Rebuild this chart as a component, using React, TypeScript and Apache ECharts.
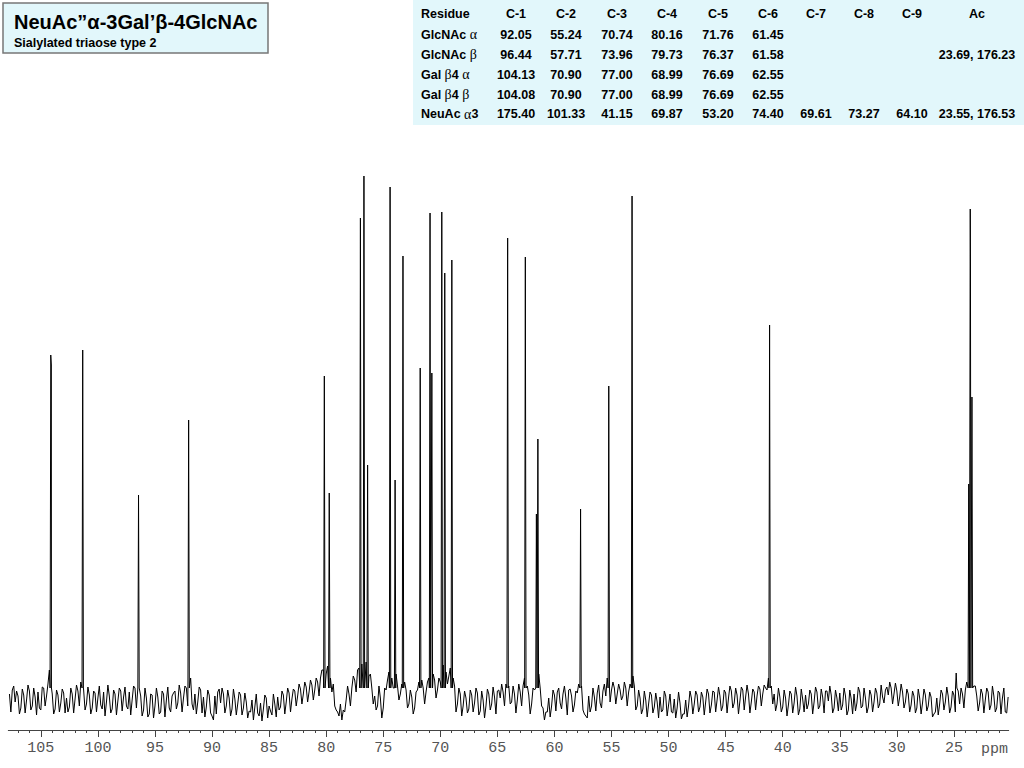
import React, { useEffect, useRef } from "react";
import * as echarts from "echarts";

// ---------- DATA ----------
// Baseline noise.
// baselineNoise: one value every 0.25 ppm from 107.75 ppm down to 20.25 ppm
// baselineNoiseMid: the values half-way between them, from 107.625 ppm down to 20.375 ppm
const NOISE_START_PPM = 107.75;
const NOISE_STEP_PPM = 0.25;
const baselineNoise = [
  // 107.75 .. 103.00
  6, 10, -2, 4, -8, 5, 0, 9, -6, 3, 8, -10, 12, 4, 30, 6, -9, 5, -3, 7,
  // 102.75 .. 98.00
  2, -7, 6, 1, 9, 18, 10, -4, 5, -8, 7, 2, -5, 8, -2, 4, -9, 6, -1, 9,
  // 97.75 .. 93.00
  3, -6, 8, 0, 12, 14, 4, -10, 2, -14, 5, -6, 3, -12, 6, 0, -8, 4, 9, -3,
  // 92.75 .. 88.00
  7, 2, 12, 8, -4, 6, -2, 10, 3, -7, 5, -16, 4, 8, -3, 6, -6, 2, -9, 1,
  // 87.75 .. 83.00
  -4, 5, -8, -2, -11, 0, -7, -13, -3, -9, 2, -6, -15, -4, 3, -7, 5, -2, 7, 1,
  // 82.75 .. 78.00
  9, 4, 11, 6, 13, 8, 15, 10, 18, 22, 30, 26, 28, 8, -6, -12, -4, -10, 0, 6,
  // 77.75 .. 73.00
  12, 20, 30, 40, 50, 38, 24, 12, 4, -6, 2, -8, 10, 28, 22, 30, 14, 6, 25, 10,
  // 72.75 .. 68.00
  -4, 3, -8, 10, 25, 12, 8, 22, 40, 20, 10, 18, 35, 28, 24, 35, 14, -4, 6, -6,
  // 67.75 .. 63.00
  2, -9, 5, -3, 7, -11, 0, -6, 6, -4, 3, 9, 2, 8, 16, 14, -2, 6, 0, 8,
  // 62.75 .. 58.00
  14, 20, 5, -4, 10, 30, 12, -8, -12, 2, -6, 5, 8, -3, 6, 2, 10, 4, -5, 7,
  // 57.75 .. 53.00
  12, -10, -16, 4, -6, 3, 7, -3, 9, 4, 14, 10, 12, 6, 10, 4, 12, 8, 20, 14,
  // 52.75 .. 48.00
  -6, 2, -9, 0, -4, 5, -7, -2, 3, -10, 4, -5, -12, 1, -8, -3, -14, 0, -6, 2,
  // 47.75 .. 43.00
  -4, 5, -7, 3, -2, 6, -5, 8, 0, 4, -6, 7, 2, 9, -3, 5, -1, 10, 3, 6,
  // 42.75 .. 38.00
  -2, 8, 4, 11, 6, 12, 22, 14, 6, -4, 3, -7, 2, -5, 6, -3, 4, -9, 1, 5,
  // 37.75 .. 33.00
  -4, 6, -2, 8, -6, 3, 9, -1, 5, -8, 2, 7, -5, 4, -10, 1, 6, -3, 8, -6,
  // 32.75 .. 28.00
  2, -7, 5, -2, 7, -4, 3, 10, 5, 12, 6, 9, 3, 8, -2, 6, -5, 4, -8, 2,
  // 27.75 .. 23.00
  -3, 5, -6, 3, -14, 2, -4, 6, -2, 4, -7, 5, 8, -4, 6, 10, 22, 30, 14, 4,
  // 22.75 .. 20.25
  -3, 6, 0, 8, -5, 4, -8, 7, 2, -12, 3,
];
const baselineNoiseMid = [
  // 107.625 .. 102.875
  -12, 14, 9, -14, 11, -13, 15, -10, 12, -15, -8, 13, -6, 16, 24, -14, 10, -12, 11, -13,
  // 102.625 .. 97.875
  -12, 12, -13, 15, -6, 26, -10, 13, -14, 9, -12, 14, -9, -16, 15, -13, 10, -15, 12, -11,
  // 97.625 .. 92.875
  13, -9, -15, 14, -8, 20, -16, 12, -17, 6, -18, 12, -14, 9, -17, 13, -12, 7, -9, 15,
  // 92.625 .. 87.875
  -12, 14, -6, 22, -10, -14, 13, -13, -17, 10, -13, -20, -14, 11, 12, -13, 10, -16, 11, -15,
  // 87.625 .. 82.875
  8, -15, 7, -18, -12, -20, 6, -16, -21, 5, -18, -11, 6, -17, -10, 9, -14, 12, -12, 11,
  // 82.625 .. 77.875
  -6, 16, -4, 18, -2, 20, 0, 22, 4, 30, 24, 34, 22, 16, -10, -16, -20, -12, 14, -6,
  // 77.625 .. 72.875
  24, 8, 32, 36, 46, 30, 26, -4, -10, 14, -18, 12, 20, 34, 12, 26, 0, 16, 18, -8,
  // 72.625 .. 67.875
  10, -14, 8, 18, 20, -4, 18, 30, 26, 2, 22, 28, 32, 16, 32, 22, -12, 12, -16, 9,
  // 67.625 .. 62.875
  -13, 10, -12, 12, -15, 9, -18, 11, -10, 13, -14, 10, 16, -6, 20, -4, 14, -13, 16, -6,
  // 62.625 .. 57.875
  22, 14, -14, 12, 18, 26, -6, -20, -12, -17, 10, -11, 12, -9, 14, -15, 11, -12, 9, 16,
  // 57.625 .. 52.875
  14, -14, -18, -12, 12, -11, 15, -8, 16, 22, -2, 18, -4, 16, 0, 18, -6, 16, 24, -10,
  // 52.625 .. 47.875
  10, -14, 9, -17, 8, -13, 7, -18, -12, 9, -16, 6, -13, -18, 8, -19, -14, -17, 9, -14,
  // 47.625 .. 42.875
  9, -12, 8, -15, 11, -13, 9, -12, 13, -11, 10, -13, 14, -8, 12, -14, 13, -10, 15, -13,
  // 42.625 .. 37.875
  11, -10, 14, -6, 15, 10, 24, -4, -11, 12, -12, 10, -16, 9, -13, 13, -15, 11, -12, -9,
  // 37.625 .. 32.875
  10, -14, 13, -9, 11, -13, 9, 14, -13, 10, -11, -10, 12, -15, 10, -14, -11, 13, -8, 12,
  // 32.625 .. 27.875
  -13, 10, -12, 12, -8, 15, -3, 13, 18, -4, 17, -6, 16, -8, 11, -12, 9, -13, 11, -14,
  // 27.625 .. 22.875
  11, -11, 8, -17, -12, -15, 10, -10, 13, -13, 9, -12, 9, 12, -8, 18, 28, 32, 14, -11,
  // 22.625 .. 20.375
  11, -13, 12, -10, 14, -12, 9, -14, 12, -13,
];

// Resonances (ppm) and their drawn heights
const peakPpm = [
  104.13, 104.08, 101.33, 96.44, 92.05, 80.16, 79.73, 77.0, 76.69, 76.37,
  74.4, 73.96, 73.27, 71.76, 70.9, 70.74, 69.87, 69.61, 68.99, 64.1,
  62.55, 61.58, 61.45, 57.71, 55.24, 53.2, 41.15, 24.8, 23.7, 23.57,
  23.55, 23.42,
];
const peakHeight = [
  345, 335, 350, 205, 280, 324, 207, 482, 524, 235,
  513, 220, 444, 332, 487, 327, 488, 427, 440, 462,
  443, 186, 261, 191, 314, 504, 375, 27, 216, 491,
  436, 303,
];

const majorTicks = [105, 100, 95, 90, 85, 80, 75, 70, 65, 60, 55, 50, 45, 40, 35, 30, 25];
const minorTicks = [
  107, 106, 105, 104, 103, 102, 101, 100, 99, 98, 97, 96, 95, 94, 93, 92, 91, 90, 89, 88,
  87, 86, 85, 84, 83, 82, 81, 80, 79, 78, 77, 76, 75, 74, 73, 72, 71, 70, 69, 68,
  67, 66, 65, 64, 63, 62, 61, 60, 59, 58, 57, 56, 55, 54, 53, 52, 51, 50, 49, 48,
  47, 46, 45, 44, 43, 42, 41, 40, 39, 38, 37, 36, 35, 34, 33, 32, 31, 30, 29, 28,
  27, 26, 25, 24, 23, 22, 21,
];

const titleText = "NeuAc\u201D\u03B1-3Gal\u2019\u03B2-4GlcNAc";
const subtitleText = "Sialylated triaose type 2";

const tableHeader = ["C-1", "C-2", "C-3", "C-4", "C-5", "C-6", "C-7", "C-8", "C-9", "Ac"];
const residueLabels = [
  "{b|GlcNAc }{g|\u03B1}",
  "{b|GlcNAc }{g|\u03B2}",
  "{b|Gal }{g|\u03B2}{b|4 }{g|\u03B1}",
  "{b|Gal }{g|\u03B2}{b|4 }{g|\u03B2}",
  "{b|NeuAc }{g|\u03B1}{b|3}",
];
const rowGlcNAcAlpha = ["92.05", "55.24", "70.74", "80.16", "71.76", "61.45", "", "", "", ""];
const rowGlcNAcBeta = ["96.44", "57.71", "73.96", "79.73", "76.37", "61.58", "", "", "", "23.69, 176.23"];
const rowGalAlpha = ["104.13", "70.90", "77.00", "68.99", "76.69", "62.55", "", "", "", ""];
const rowGalBeta = ["104.08", "70.90", "77.00", "68.99", "76.69", "62.55", "", "", "", ""];
const rowNeuAc = ["175.40", "101.33", "41.15", "69.87", "53.20", "74.40", "69.61", "73.27", "64.10", "23.55, 176.53"];

// ---------- LAYOUT / STYLE ----------
const W = 1024;
const H = 768;
const CYAN = "#e2f7fb";
const SANS = "'Liberation Sans', Arial, sans-serif";
const SERIF = "'Liberation Serif', 'Times New Roman', serif";
const MONO = "'Liberation Mono', 'Courier New', monospace";
const colX = [516, 566, 617, 667, 718, 768, 816, 864, 912, 977];
const rowY = [14, 34.5, 54.5, 74.5, 94.5, 114];
const FOOT = 12;
const HALF = 0.06;

function buildSpectrum(): [number, number][] {
  const pts: [number, number][] = [];
  const nearPeak = (x: number) => peakPpm.some((p) => Math.abs(p - x) < 0.07);
  baselineNoise.forEach((v, i) => {
    const x = NOISE_START_PPM - i * NOISE_STEP_PPM;
    if (!nearPeak(x)) pts.push([x, v]);
  });
  baselineNoiseMid.forEach((v, i) => {
    const x = NOISE_START_PPM - NOISE_STEP_PPM / 2 - i * NOISE_STEP_PPM;
    if (!nearPeak(x)) pts.push([x, v]);
  });
  peakPpm.forEach((p, i) => {
    pts.push([p + HALF, FOOT], [p, peakHeight[i]], [p - HALF, FOOT]);
  });
  pts.sort((a, b) => b[0] - a[0]);
  return pts;
}

function buildGraphic(): any[] {
  const els: any[] = [];
  // title box
  els.push({
    type: "rect",
    shape: { x: 3, y: 3, width: 265, height: 50 },
    style: { fill: CYAN, stroke: "#777", lineWidth: 1.5 },
  });
  els.push({
    type: "text",
    x: 14,
    y: 22,
    style: { text: titleText, fill: "#000", font: `bold 20px ${SANS}`, verticalAlign: "middle" },
  });
  els.push({
    type: "text",
    x: 14,
    y: 43,
    style: { text: subtitleText, fill: "#000", font: `bold 12.5px ${SANS}`, verticalAlign: "middle" },
  });
  // table
  els.push({
    type: "rect",
    shape: { x: 413, y: 0, width: W - 413, height: 125 },
    style: { fill: CYAN },
  });
  els.push({
    type: "text",
    x: 421,
    y: rowY[0],
    style: { text: "Residue", fill: "#000", font: `bold 12.5px ${SANS}`, verticalAlign: "middle" },
  });
  tableHeader.forEach((h, j) => {
    els.push({
      type: "text",
      x: colX[j],
      y: rowY[0],
      style: { text: h, fill: "#000", font: `bold 12.5px ${SANS}`, align: "center", verticalAlign: "middle" },
    });
  });
  const rows = [rowGlcNAcAlpha, rowGlcNAcBeta, rowGalAlpha, rowGalBeta, rowNeuAc];
  rows.forEach((row, r) => {
    els.push({
      type: "text",
      x: 421,
      y: rowY[r + 1],
      style: {
        text: residueLabels[r],
        verticalAlign: "middle",
        rich: {
          b: { fontFamily: SANS, fontWeight: "bold", fontSize: 12.5, fill: "#000", color: "#000" },
          g: { fontFamily: SERIF, fontWeight: "normal", fontSize: 14, fill: "#000", color: "#000" },
        },
      },
    });
    row.forEach((v, j) => {
      if (!v) return;
      els.push({
        type: "text",
        x: colX[j],
        y: rowY[r + 1],
        style: { text: v, fill: "#000", font: `bold 12.5px ${SANS}`, align: "center", verticalAlign: "middle" },
      });
    });
  });
  // axis unit
  els.push({
    type: "text",
    x: 981,
    y: 749,
    style: { text: "ppm", fill: "#555", font: `15px ${MONO}`, verticalAlign: "middle" },
  });
  return els;
}

export default function App() {
  const ref = useRef<HTMLDivElement>(null);
  useEffect(() => {
    if (!ref.current) return;
    const chart = echarts.init(ref.current, undefined, { renderer: "svg" });
    const axisBase = {
      type: "value" as const,
      inverse: true,
      min: 20.2,
      max: 107.85,
      position: "bottom" as const,
      splitLine: { show: false },
    };
    chart.setOption({
      animation: false,
      backgroundColor: "#ffffff",
      grid: { left: 8.3, right: 15.3, top: 160, bottom: 38 },
      xAxis: [
        {
          ...axisBase,
          axisLine: { show: true, onZero: false, lineStyle: { color: "#444", width: 1 } },
          axisTick: { show: true, customValues: majorTicks, length: 7, lineStyle: { color: "#444" } },
          axisLabel: {
            show: true,
            customValues: majorTicks,
            color: "#555",
            fontFamily: MONO,
            fontSize: 15,
            margin: 11,
          },
        },
        {
          ...axisBase,
          axisLine: { show: false, onZero: false },
          axisTick: { show: true, customValues: minorTicks, length: 3, lineStyle: { color: "#444" } },
          axisLabel: { show: false },
        },
      ],
      yAxis: { type: "value", min: -30, max: 540, show: false, splitLine: { show: false } },
      series: [
        {
          type: "line",
          xAxisIndex: 0,
          yAxisIndex: 0,
          data: buildSpectrum(),
          showSymbol: false,
          symbol: "none",
          silent: true,
          lineStyle: { color: "#000", width: 1 },
        },
      ],
      graphic: buildGraphic(),
    });
    return () => chart.dispose();
  }, []);
  return (
    <div
      ref={ref}
      style={{ position: "fixed", left: 0, top: 0, width: W, height: H, background: "#fff" }}
    />
  );
}
